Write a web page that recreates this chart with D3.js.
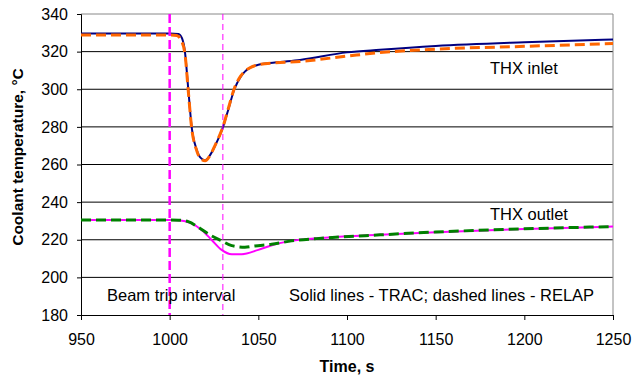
<!DOCTYPE html>
<html>
<head>
<meta charset="utf-8">
<script src="https://cdn.jsdelivr.net/npm/d3@7"></script>
<style>
  body { margin: 0; background: #fff; }
  svg text { font-family: "Liberation Sans", Arial, sans-serif; fill: #000; }
</style>
</head>
<body>
<div id="chart"></div>
<script>
// Data
const timeTracIn = [950, 1000, 1005, 1007, 1008.6, 1010.5, 1012.4, 1015.2, 1017.5, 1020, 1022.5, 1025.6, 1030.2, 1033, 1036.5, 1040, 1042.4, 1046, 1050, 1059.4, 1073.5, 1100, 1118.6, 1150, 1200, 1250];
const tracIn = [329.6, 329.6, 329.4, 327, 320, 300, 280, 268, 263.5, 262.3, 264.6, 270, 280.2, 289, 300, 306.5, 309.4, 311.8, 313, 314.2, 315.6, 319.6, 321, 323, 325, 326.5];

const timeRelapIn = [950, 1000, 1004, 1006.5, 1008.6, 1010.5, 1012.4, 1015.2, 1017.5, 1020, 1022.5, 1025.6, 1030.2, 1033, 1036.5, 1040, 1042.4, 1046, 1050, 1059.4, 1073.5, 1100, 1118.6, 1150, 1200, 1250];
const relapIn = [328.8, 328.8, 328.6, 326, 319, 299, 279.5, 267.5, 263, 262, 264.4, 270.2, 280.5, 289.5, 300.5, 307, 309.6, 311.8, 313, 314, 314.8, 317.6, 319.5, 321.3, 322.8, 324.3];

const timeTracOut = [950, 1000, 1005, 1012.4, 1018, 1023.7, 1029.3, 1035, 1040.6, 1050, 1059.4, 1068.8, 1082.9, 1118.6, 1150, 1200, 1250];
const tracOut = [230.5, 230.5, 230.4, 228.7, 225.2, 219.9, 214.6, 212.3, 212.3, 214.6, 217.6, 219.4, 220.8, 222.6, 224, 225.7, 227];

const timeRelapOut = [950, 1000, 1005, 1010.5, 1017, 1022.6, 1029.3, 1035, 1042.4, 1048, 1057.5, 1068.8, 1082.9, 1118.6, 1150, 1200, 1250];
const relapOut = [230.5, 230.5, 230.4, 229.6, 226.1, 222.6, 219.4, 216.9, 216, 216.7, 217.6, 219.4, 220.6, 222.6, 224.1, 225.8, 227];

const xTicks = [950, 1000, 1050, 1100, 1150, 1200, 1250];
const yTicks = [180, 200, 220, 240, 260, 280, 300, 320, 340];
const beamTrip = [1000, 1030];

// Dimensions
const W = 632, H = 379;
const margin = { top: 14, right: 19, bottom: 64, left: 81 };
const width = W - margin.left - margin.right;
const height = H - margin.top - margin.bottom;

const svg = d3.select("#chart").append("svg")
    .attr("width", W)
    .attr("height", H);

const g = svg.append("g")
    .attr("transform", `translate(${margin.left},${margin.top})`);

const x = d3.scaleLinear().domain([950, 1250]).range([0, width]);
const y = d3.scaleLinear().domain([180, 340]).range([height, 0]);

// Gridlines
g.selectAll(".grid")
    .data(yTicks.filter(d => d > 180 && d < 340))
    .enter().append("line")
    .attr("x1", 0).attr("x2", width)
    .attr("y1", d => y(d)).attr("y2", d => y(d))
    .attr("stroke", "#000").attr("stroke-width", 1);

// Plot border (top and right)
g.append("path")
    .attr("d", `M0,${y(340)}H${width}V${height}`)
    .attr("fill", "none").attr("stroke", "#888").attr("stroke-width", 1);

// Axes
const xAxis = g.append("g")
    .attr("transform", `translate(0,${height})`)
    .call(d3.axisBottom(x).tickValues(xTicks).tickSize(5).tickPadding(14).tickFormat(d3.format("d")));
const yAxis = g.append("g")
    .call(d3.axisLeft(y).tickValues(yTicks).tickSize(4).tickPadding(9).tickFormat(d3.format("d")));

[xAxis, yAxis].forEach(a => {
    a.select(".domain").attr("stroke", "#000");
    a.selectAll(".tick line").attr("stroke", "#000");
    a.selectAll("text")
        .attr("font-size", "16px")
        .attr("font-family", "'Liberation Sans', Arial, sans-serif")
        .attr("fill", "#000");
});

// Series
const line = d3.line()
    .x(d => x(d[0]))
    .y(d => y(d[1]))
    .curve(d3.curveMonotoneX);

const series = [
    { t: timeTracIn, v: tracIn, color: "#000080", w: 2, dash: null },
    { t: timeTracOut, v: tracOut, color: "#ff00ff", w: 2, dash: null },
    { t: timeRelapIn, v: relapIn, color: "#ff6600", w: 3, dash: "10,5" },
    { t: timeRelapOut, v: relapOut, color: "#008000", w: 3, dash: "10,5" }
];

series.forEach(s => {
    g.append("path")
        .datum(s.t.map((t, i) => [t, s.v[i]]))
        .attr("fill", "none")
        .attr("stroke", s.color)
        .attr("stroke-width", s.w)
        .attr("stroke-dasharray", s.dash)
        .attr("d", line);
});

// Beam trip interval lines
g.selectAll(".trip")
    .data(beamTrip)
    .enter().append("line")
    .attr("x1", d => x(d)).attr("x2", d => x(d))
    .attr("y1", y(340)).attr("y2", height)
    .attr("stroke", "#ff00ff")
    .attr("stroke-width", (d, i) => i === 0 ? 2.5 : 1)
    .attr("stroke-dasharray", (d, i) => i === 0 ? "9,4" : "6,4");

// Annotations
const notes = [
    { text: "THX inlet", px: 409, py: 60 },
    { text: "THX outlet", px: 409, py: 206 },
    { text: "Beam trip interval", px: 26, py: 287 },
    { text: "Solid lines - TRAC; dashed lines - RELAP", px: 208, py: 287 }
];
g.selectAll(".note")
    .data(notes)
    .enter().append("text")
    .attr("x", d => d.px)
    .attr("y", d => d.py)
    .attr("font-size", "16.5px")
    .text(d => d.text);

// Axis titles
svg.append("text")
    .attr("x", margin.left + width / 2)
    .attr("y", 372)
    .attr("text-anchor", "middle")
    .attr("font-size", "16px")
    .attr("font-weight", "bold")
    .text("Time, s");

svg.append("text")
    .attr("transform", "translate(23,157) rotate(-90)")
    .attr("text-anchor", "middle")
    .attr("font-size", "15.5px")
    .attr("font-weight", "bold")
    .text("Coolant temperature, °C");
</script>
</body>
</html>
